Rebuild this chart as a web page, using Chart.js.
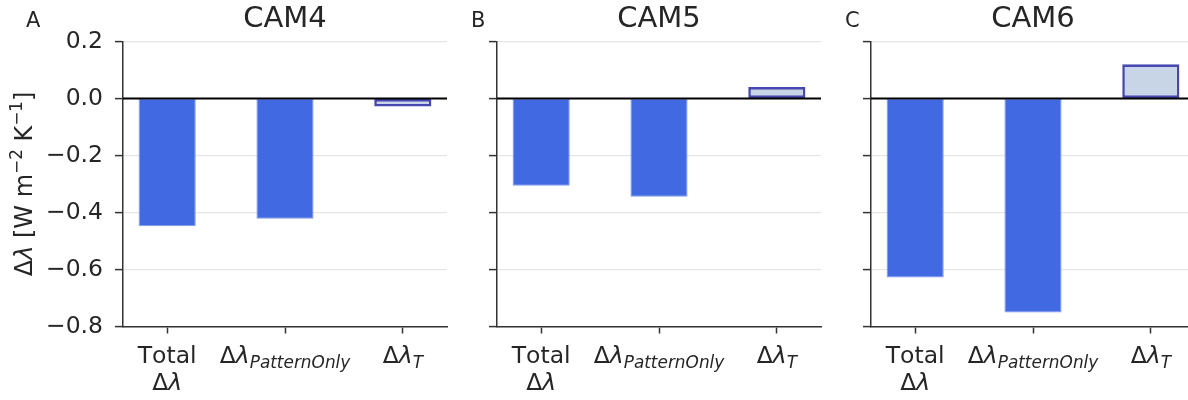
<!DOCTYPE html>
<html>
<head>
<meta charset="utf-8">
<script src="https://cdn.jsdelivr.net/npm/chart.js@4.4.1/dist/chart.umd.min.js"></script>
<style>
  html, body { margin: 0; padding: 0; background: #fff; overflow: hidden; width: 1188px; height: 400px; }
  .panel { position: absolute; top: 0; width: 452px; height: 400px; }
</style>
</head>
<body>
<div class="panel" style="left:0px"><canvas id="c0"></canvas></div>
<div class="panel" style="left:374px"><canvas id="c1"></canvas></div>
<div class="panel" style="left:748px"><canvas id="c2"></canvas></div>
<script>
// ---- data ----
const models = ['CAM4', 'CAM5', 'CAM6'];
const panelLetters = ['A', 'B', 'C'];
const categories = ['Total\nΔλ', 'Δλ_PatternOnly', 'Δλ_T'];
const cam4 = [-0.448, -0.422, -0.028];
const cam5 = [-0.306, -0.345, 0.040];
const cam6 = [-0.628, -0.751, 0.120];
const yTicks = [-0.8, -0.6, -0.4, -0.2, 0.0, 0.2];
const yLabel = 'Δλ [W m^−2 K^−1]';

const seriesByModel = [cam4, cam5, cam6];

// ---- styles ----
const FONT = '"DejaVu Sans"';
const TEXT = '#262626';
const AXIS = '#333333';
const barFill = ['#4169E1', '#4169E1', '#C8D5E6'];
const barEdge = ['#7E98EC', '#7E98EC', '#4747B0'];
const barEdgeW = [1, 1, 2.6];
const TICK_SIZE = 23.5;
const LABEL_SIZE = 23.5;
const YTITLE_SIZE = 24;
const TITLE_SIZE = 29;

Chart.defaults.font.family = FONT;
Chart.defaults.color = TEXT;

function fmtY(v) {
  if (Math.abs(v) < 1e-9) return '0.0';
  return v.toFixed(1).replace('-', '\u2212');
}

// draw text where λ is italic; returns width
function drawRich(ctx, text, x, y, size, measureOnly) {
  let w = 0;
  for (const ch of text) {
    const italic = (ch === 'λ');
    ctx.font = (italic ? 'italic ' : '') + size + 'px ' + FONT;
    if (!measureOnly) ctx.fillText(ch, x + w, y);
    w += ctx.measureText(ch).width;
  }
  return w;
}

// label with optional subscript after '_' (subscript italic)
function labelWidth(ctx, line, size) {
  const [main, sub] = line.split('_');
  let w = drawRich(ctx, main, 0, 0, size, true);
  if (sub) { ctx.font = 'italic ' + (size * 0.72) + 'px ' + FONT; w += ctx.measureText(sub).width; }
  return w;
}
function drawLabel(ctx, line, cx, y, size) {
  const [main, sub] = line.split('_');
  const w = labelWidth(ctx, line, size);
  let x = cx - w / 2;
  x += drawRich(ctx, main, x, y, size, false);
  if (sub) {
    ctx.font = 'italic ' + (size * 0.72) + 'px ' + FONT;
    ctx.fillText(sub, x, y + 5);
  }
}

function makeChart(idx) {
  const values = seriesByModel[idx];
  const showY = idx === 0;
  const decor = {
    id: 'decor' + idx,
    afterDatasetsDraw(chart) {
      const ctx = chart.ctx, ca = chart.chartArea, ys = chart.scales.y;
      const y0 = ys.getPixelForValue(0);
      ctx.save();
      ctx.strokeStyle = '#000';
      ctx.lineWidth = 2.2;
      ctx.beginPath();
      ctx.moveTo(ca.left, y0);
      ctx.lineTo(ca.right, y0);
      ctx.stroke();
      ctx.restore();
    },
    afterDraw(chart) {
      const ctx = chart.ctx, ca = chart.chartArea, xs = chart.scales.x;
      ctx.save();
      ctx.fillStyle = TEXT;
      ctx.textBaseline = 'alphabetic';
      ctx.textAlign = 'left';
      // title
      ctx.font = TITLE_SIZE + 'px ' + FONT;
      const tw = ctx.measureText(models[idx]).width;
      ctx.fillText(models[idx], (ca.left + ca.right) / 2 - tw / 2, 27);
      // panel letter
      ctx.font = '21px ' + FONT;
      ctx.fillText(panelLetters[idx], idx === 0 ? 26 : ca.left - 26, 27);
      // x tick labels
      categories.forEach((cat, i) => {
        const cx = xs.getPixelForValue(i);
        const lines = cat.split('\n');
        lines.forEach((ln, k) => drawLabel(ctx, ln, cx, 363 + k * 27, LABEL_SIZE));
      });
      // y axis title
      if (showY) {
        ctx.translate(31.5, 184);
        ctx.rotate(-Math.PI / 2);
        const parts = [];
        yLabel.split(/(\^−\d)/).forEach(p => {
          if (!p) return;
          if (p.startsWith('^')) parts.push({t: p.slice(1), sup: true});
          else parts.push({t: p, sup: false});
        });
        const supSize = YTITLE_SIZE * 0.7;
        let total = 0;
        parts.forEach(p => {
          if (p.sup) { ctx.font = supSize + 'px ' + FONT; p.w = ctx.measureText(p.t).width; }
          else p.w = drawRich(ctx, p.t, 0, 0, YTITLE_SIZE, true);
          total += p.w;
        });
        let x = -total / 2;
        parts.forEach(p => {
          if (p.sup) { ctx.font = supSize + 'px ' + FONT; ctx.fillText(p.t, x, -9.5); }
          else drawRich(ctx, p.t, x, 0, YTITLE_SIZE, false);
          x += p.w;
        });
      }
      ctx.restore();
    }
  };

  return new Chart(document.getElementById('c' + idx), {
    type: 'bar',
    data: {
      datasets: [{
        data: values.map((v, i) => ({x: i, y: v})),
        backgroundColor: barFill,
        borderColor: barEdge,
        borderWidth: barEdgeW,
        borderSkipped: false,
        barPercentage: 0.485,
        categoryPercentage: 1.0
      }]
    },
    options: {
      responsive: true,
      maintainAspectRatio: false,
      animation: false,
      devicePixelRatio: 1,
      layout: { padding: { top: 41.5, right: 5, bottom: 0, left: 0 } },
      plugins: { legend: { display: false }, tooltip: { enabled: false }, title: { display: false } },
      scales: {
        x: {
          type: 'linear',
          offset: false,
          min: -0.375,
          max: 2.375,
          afterBuildTicks: s => { s.ticks = categories.map((c, i) => ({value: i})); },
          afterFit: s => { s.height = 73.5; },
          ticks: { display: false },
          grid: { offset: false, drawOnChartArea: false, drawTicks: true, tickLength: 7, tickColor: AXIS, tickWidth: 1.5 },
          border: { display: true, color: AXIS, width: 1.5 }
        },
        y: {
          min: -0.8,
          max: 0.2,
          afterBuildTicks: s => { s.ticks = yTicks.map(v => ({value: v})); },
          afterFit: s => { s.width = 123; },
          ticks: {
            display: showY,
            padding: 12,
            color: TEXT,
            font: { size: TICK_SIZE, family: FONT },
            callback: v => fmtY(v)
          },
          grid: { color: '#E6E6E6', lineWidth: 1.2, drawTicks: true, tickLength: 8, tickColor: AXIS, tickWidth: 1.5 },
          border: { display: true, color: AXIS, width: 1.5 }
        }
      }
    },
    plugins: [decor]
  });
}

[0, 1, 2].forEach(makeChart);
</script>
</body>
</html>
